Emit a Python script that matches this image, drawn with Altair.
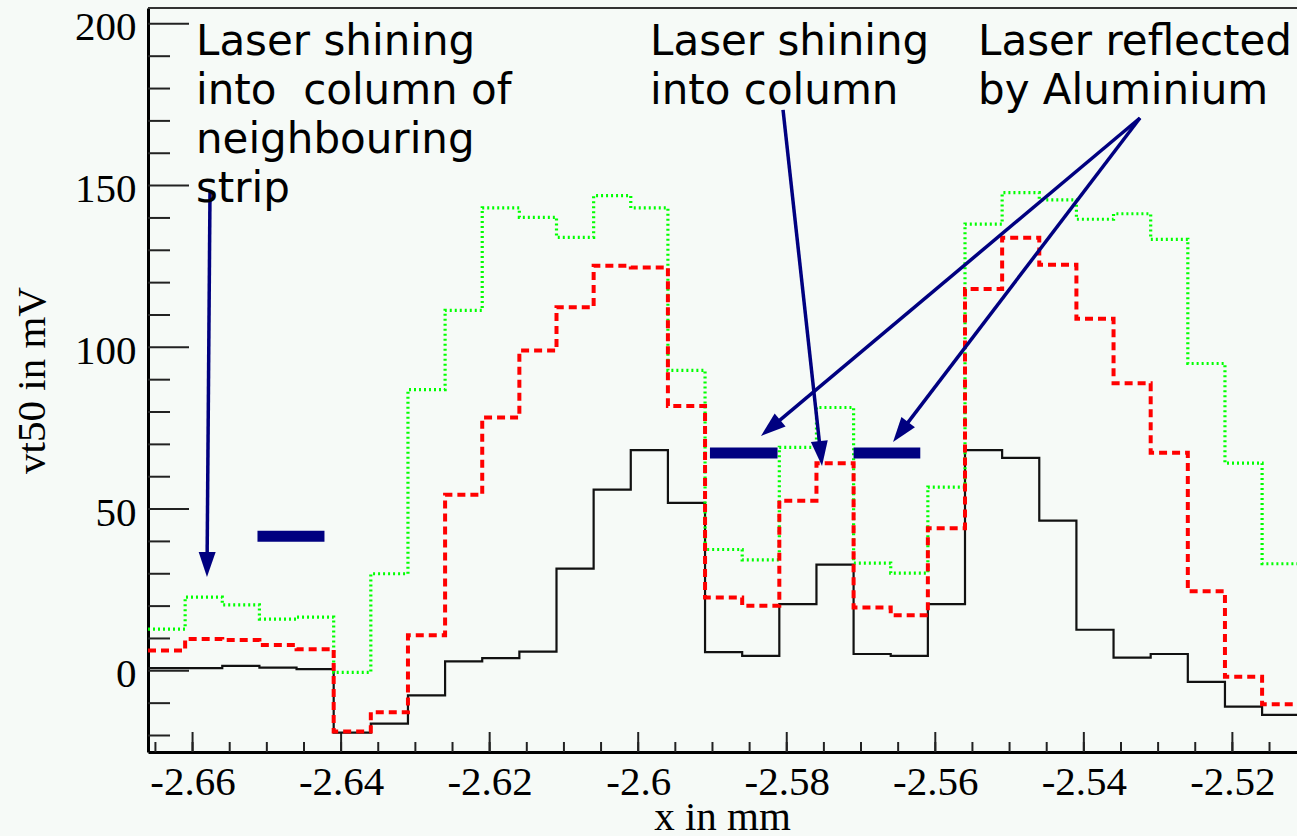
import math

import altair as alt
import pandas as pd

# ---------------------------------------------------------------------------
# Histogram binning along x (mm)
BIN_START = -2.666
BIN_WIDTH = 0.005

# vt50 per bin (mV), three scans
vt50_black = [0.8, 0.8, 1.5, 1.0, 0.5, -19.1, -16.3, -7.6, 2.9, 3.9, 5.9,
              31.6, 56.0, 68.2, 51.9, 5.8, 4.6, 20.6, 32.8, 5.2, 4.6, 20.6,
              68.2, 65.8, 46.4, 12.7, 4.1, 5.2, -3.4, -11.1, -13.6]
vt50_red = [6.3, 9.8, 9.5, 8.0, 6.7, -18.8, -12.8, 11.0, 54.4, 78.3, 99.0,
            112.4, 125.2, 124.7, 81.9, 22.7, 20.1, 52.6, 64.2, 19.6, 17.2,
            44.1, 118.0, 133.9, 125.5, 108.8, 88.9, 67.4, 24.6, -1.8, -10.3]
vt50_green = [12.9, 22.8, 20.4, 16.0, 16.6, -0.5, 30.0, 86.9, 111.4, 143.1,
              140.2, 134.0, 146.9, 143.1, 92.9, 37.5, 34.3, 69.1, 81.4, 33.3,
              30.2, 56.8, 138.1, 147.8, 145.6, 139.6, 141.3, 133.4, 95.0,
              64.2, 33.1]

# Axis ticks
X_MAJOR = [-2.66, -2.64, -2.62, -2.60, -2.58, -2.56, -2.54, -2.52]
X_MINOR = [round(-2.665 + 0.005 * i, 3) for i in range(31)]
Y_MAJOR = [0, 50, 100, 150, 200]
Y_MINOR = [v for v in range(-20, 200, 10) if v % 50 != 0]

# Annotations (data coordinates)
bar_x = [-2.65126, -2.59034, -2.57100]
bar_x2 = [-2.64224, -2.58124, -2.56202]
bar_y = [41.6, 67.3, 67.3]

arrow_tail_x = [-2.65765, -2.58050, -2.53244, -2.53244]
arrow_tail_y = [148.6, 173.4, 170.9, 170.9]
arrow_tip_x = [-2.65806, -2.57525, -2.58347, -2.56569]
arrow_tip_y = [29.0, 63.3, 72.6, 70.7]

note_text = [
    "Laser shining\ninto\u00a0 column of\nneighbouring\nstrip",
    "Laser shining\ninto column",
    "Laser reflected\nby Aluminium",
]
note_x = [-2.65954, -2.59841, -2.55425]
note_y = [190.4, 190.4, 190.4]

# ---------------------------------------------------------------------------
X_DOMAIN = [-2.666, -2.5113]
Y_DOMAIN = [-25.1, 204.9]
W, H = 1149, 744
NAVY = "#000080"
SERIF = "Liberation Serif"

x_scale = alt.Scale(domain=X_DOMAIN, nice=False, zero=False)
y_scale = alt.Scale(domain=Y_DOMAIN, nice=False, zero=False)

x_axis = alt.Axis(
    values=X_MAJOR, labelExpr="toString(datum.value)", ticks=False, tickSize=0,
    grid=False, domain=True, domainColor="black", domainWidth=3,
    labelFont=SERIF, labelFontSize=41, labelColor="black", labelPadding=10,
    labelFlush=False, labelOverlap=False,
    title="x in mm", titleFont=SERIF, titleFontSize=41, titleFontWeight="normal",
    titleColor="black", titleX=574, titleY=77, titleAlign="center",
    titleBaseline="alphabetic",
)
y_axis = alt.Axis(
    values=Y_MAJOR, format="d", ticks=False, tickSize=0, grid=False,
    domain=True, domainColor="black", domainWidth=3,
    labelFont=SERIF, labelFontSize=41, labelColor="black", labelPadding=12,
    labelOffset=4, labelFlush=False, labelOverlap=False,
    title="vt50 in mV", titleFont=SERIF, titleFontSize=41,
    titleFontWeight="normal", titleColor="black", titleAngle=270,
    titleX=-104, titleY=372, titleAlign="center", titleBaseline="alphabetic",
)

X = alt.X("x:Q", scale=x_scale, axis=x_axis)
Y = alt.Y("y:Q", scale=y_scale, axis=y_axis)


def step_frame(vals):
    n = len(vals)
    xs = [BIN_START + BIN_WIDTH * i for i in range(n + 1)]
    ys = list(vals) + [vals[-1]]
    return pd.DataFrame({"x": xs, "y": ys, "o": list(range(n + 1))})


def hist_layer(vals, **style):
    return alt.Chart(step_frame(vals)).mark_line(
        interpolate="step-after", clip=True, **style
    ).encode(x=X, y=Y, order="o:Q")


black = hist_layer(vt50_black, color="#111111", strokeWidth=2.2)
green = hist_layer(vt50_green, color="#00ff00", strokeWidth=3.2, strokeDash=[2, 3])
red = hist_layer(vt50_red, color="#ff0000", strokeWidth=4, strokeDash=[8, 5])

# Tick marks drawn inward from the axis lines
y_major_ticks = alt.Chart(pd.DataFrame({"y": Y_MAJOR})).mark_rule(
    color="#222222", strokeWidth=2
).encode(y=Y, x=alt.value(0), x2=alt.value(41))
y_minor_ticks = alt.Chart(pd.DataFrame({"y": Y_MINOR})).mark_rule(
    color="#222222", strokeWidth=2
).encode(y=Y, x=alt.value(0), x2=alt.value(22))
x_major_ticks = alt.Chart(pd.DataFrame({"x": X_MAJOR})).mark_rule(
    color="#222222", strokeWidth=2
).encode(x=X, y=alt.value(H), y2=alt.value(H - 20))
x_minor_ticks = alt.Chart(pd.DataFrame({"x": X_MINOR})).mark_rule(
    color="#222222", strokeWidth=2
).encode(x=X, y=alt.value(H), y2=alt.value(H - 10))
top_frame = alt.Chart(pd.DataFrame({"x": [0]})).mark_rule(
    color="#333333", strokeWidth=2
).encode(x=alt.value(0), x2=alt.value(W), y=alt.value(0))

# Thick marker bars
bars = alt.Chart(pd.DataFrame({"x": bar_x, "x2": bar_x2, "y": bar_y})).mark_rule(
    color=NAVY, strokeWidth=11, strokeCap="butt"
).encode(x=X, x2="x2:Q", y=Y)

# Arrows: shaft ends at the base of a filled head pointing at the tip
sx = W / (X_DOMAIN[1] - X_DOMAIN[0])
sy = H / (Y_DOMAIN[1] - Y_DOMAIN[0])
HEAD_LEN = 25
shaft_rows, head_rows = [], []
for tx, ty, hx, hy in zip(arrow_tail_x, arrow_tail_y, arrow_tip_x, arrow_tip_y):
    dx = (hx - tx) * sx
    dy = -(hy - ty) * sy
    dist = math.hypot(dx, dy)
    ux, uy = dx / dist, dy / dist
    back = HEAD_LEN * 0.6
    ex = hx - back * ux / sx
    ey = hy + back * uy / sy
    shaft_rows.append({"x": tx, "y": ty, "x2": ex, "y2": ey})
    ang = math.degrees(math.atan2(-dx, dy)) % 360
    head_rows.append({"x": hx, "y": hy, "a": ang})

shafts = alt.Chart(pd.DataFrame(shaft_rows)).mark_rule(
    color=NAVY, strokeWidth=3.5, strokeCap="butt"
).encode(x=X, y=Y, x2="x2:Q", y2="y2:Q")
heads = alt.Chart(pd.DataFrame(head_rows)).mark_point(
    shape="M0,0 L-0.34,-1 L0.34,-1 Z", filled=True, size=(2 * HEAD_LEN) ** 2,
    color=NAVY, opacity=1, strokeWidth=0,
).encode(x=X, y=Y, angle=alt.Angle("a:Q", scale=None))

notes = alt.Chart(pd.DataFrame({"x": note_x, "y": note_y, "t": note_text})).mark_text(
    align="left", baseline="alphabetic", font="DejaVu Sans", fontSize=42,
    lineBreak="\n", lineHeight=49, color="black",
).encode(x=X, y=Y, text="t:N")

chart = alt.layer(
    y_minor_ticks, y_major_ticks, x_minor_ticks, x_major_ticks, top_frame,
    black, green, red, bars, shafts, heads, notes,
).properties(
    width=W, height=H,
    padding={"left": 148, "top": 8, "right": 0, "bottom": 84},
    autosize=alt.AutoSizeParams(type="none"),
    background="#f6faf7",
).configure_view(stroke=None)

chart.save("out.html", embed_options={"renderer": "svg", "actions": False})
